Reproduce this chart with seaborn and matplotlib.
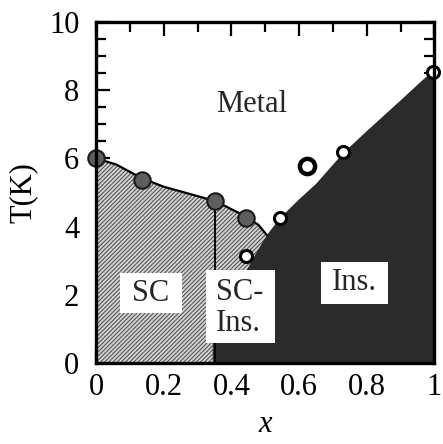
import numpy as np
import pandas as pd
import matplotlib
matplotlib.use('Agg')
import matplotlib.pyplot as plt
from matplotlib.patches import Rectangle
from matplotlib.ticker import MultipleLocator
import seaborn as sns

sns.set_style('ticks')
plt.rcParams['font.family'] = ['Liberation Serif', 'DejaVu Serif']
plt.rcParams['hatch.linewidth'] = 0.8
plt.rcParams['hatch.color'] = '#555555'

# ── Data ──────────────────────────────────────────────────
sc_x = [0.0, 0.135, 0.352, 0.442]          # superconducting Tc (filled)
sc_T = [6.0, 5.37, 4.75, 4.24]
ins_x = [0.442, 0.543, 0.730, 0.997]       # metal-insulator (open)
ins_T = [3.14, 4.24, 6.20, 8.54]
odd_x = [0.623]                            # larger open circle
odd_T = [5.79]

sc_line_x = [0.0, 0.06, 0.135, 0.20, 0.352, 0.442, 0.48, 0.505]
sc_line_T = [6.0, 5.82, 5.42, 5.17, 4.75, 4.30, 4.05, 3.75]

ins_edge_x = [0.345, 0.345, 0.44, 0.46, 0.505, 0.543, 0.60, 0.65, 0.73, 0.80, 0.90, 0.96, 1.0, 1.0]
ins_edge_T = [0.0, 1.5, 2.6, 3.0, 3.75, 4.24, 4.80, 5.25, 6.15, 6.80, 7.70, 8.25, 8.60, 0.0]

x_ticks = [0, 0.2, 0.4, 0.6, 0.8, 1.0]
x_labels = ['0', '0.2', '0.4', '0.6', '0.8', '1']
y_ticks = [0, 2, 4, 6, 8, 10]
y_labels = ['0', '2', '4', '6', '8', '10']

sc_df = pd.DataFrame({'x': sc_x, 'T': sc_T})
ins_df = pd.DataFrame({'x': ins_x, 'T': ins_T})
odd_df = pd.DataFrame({'x': odd_x, 'T': odd_T})
line_df = pd.DataFrame({'x': sc_line_x, 'T': sc_line_T})

fig = plt.figure(figsize=(4.43, 4.44), dpi=100)
ax = fig.add_axes([0.2167, 0.1824, 0.764, 0.7681])

# ── Regions ───────────────────────────────────────────────
ax.fill_between(sc_line_x, 0, sc_line_T, facecolor='#d4d4d4',
                hatch='////////', edgecolor='#555555', linewidth=0, zorder=1)
ax.fill(ins_edge_x, ins_edge_T, color='#2b2b2b', linewidth=0, zorder=2)

# SC boundary line + vertical divider
sns.lineplot(data=line_df, x='x', y='T', color='black', lw=1.6,
             sort=False, ax=ax, zorder=3)
ax.plot([sc_x[2], sc_x[2]], [0, sc_T[2]], color='black', lw=1.4, zorder=3)

# ── Points ────────────────────────────────────────────────
sns.scatterplot(data=sc_df, x='x', y='T', s=140, color='#5e5e5e',
                edgecolor='#1a1a1a', linewidth=1.5, ax=ax, zorder=5, clip_on=False)
sns.scatterplot(data=ins_df, x='x', y='T', s=75, color='white',
                edgecolor='black', linewidth=2.2, ax=ax, zorder=5, clip_on=False)
sns.scatterplot(data=odd_df, x='x', y='T', s=120, color='white',
                edgecolor='black', linewidth=3.2, ax=ax, zorder=5, clip_on=False)

# ── Label boxes ───────────────────────────────────────────
for (x0, y0, w, h) in [(0.07, 1.46, 0.185, 1.18),
                       (0.326, 0.59, 0.202, 2.14),
                       (0.665, 1.73, 0.197, 1.23)]:
    ax.add_patch(Rectangle((x0, y0), w, h, facecolor='white',
                           edgecolor='none', zorder=6))

fs = 22
ax.text(0.46, 7.57, 'Metal', fontsize=fs, ha='center', va='center', zorder=7)
ax.text(0.162, 2.05, 'SC', fontsize=fs, ha='center', va='center', zorder=7)
ax.text(0.355, 1.62, 'SC-\nIns.', fontsize=fs, ha='left', va='center',
        linespacing=1.1, zorder=7)
ax.text(0.763, 2.35, 'Ins.', fontsize=fs, ha='center', va='center', zorder=7)

# ── Axes styling ──────────────────────────────────────────
ax.set_xlim(0, 1)
ax.set_ylim(0, 10)
ax.set_xticks(x_ticks, x_labels)
ax.set_yticks(y_ticks, y_labels)
ax.xaxis.set_minor_locator(MultipleLocator(0.1))
ax.yaxis.set_minor_locator(MultipleLocator(0.5))
ax.tick_params(which='both', direction='in', top=True, right=True,
               width=1.6, labelsize=fs, color='black', labelcolor='black')
ax.tick_params(which='major', length=10)
ax.tick_params(which='minor', length=7)
ax.tick_params(axis='x', pad=7)
ax.tick_params(axis='y', pad=12)
for sp in ax.spines.values():
    sp.set_linewidth(2.4)
    sp.set_color('black')
    sp.set_zorder(8)

ax.set_xlabel('x', fontsize=fs, fontstyle='italic', labelpad=6, color='black')
ax.set_ylabel('T(K)', fontsize=fs, labelpad=8, color='black')

fig.savefig('out.png', dpi=100)
